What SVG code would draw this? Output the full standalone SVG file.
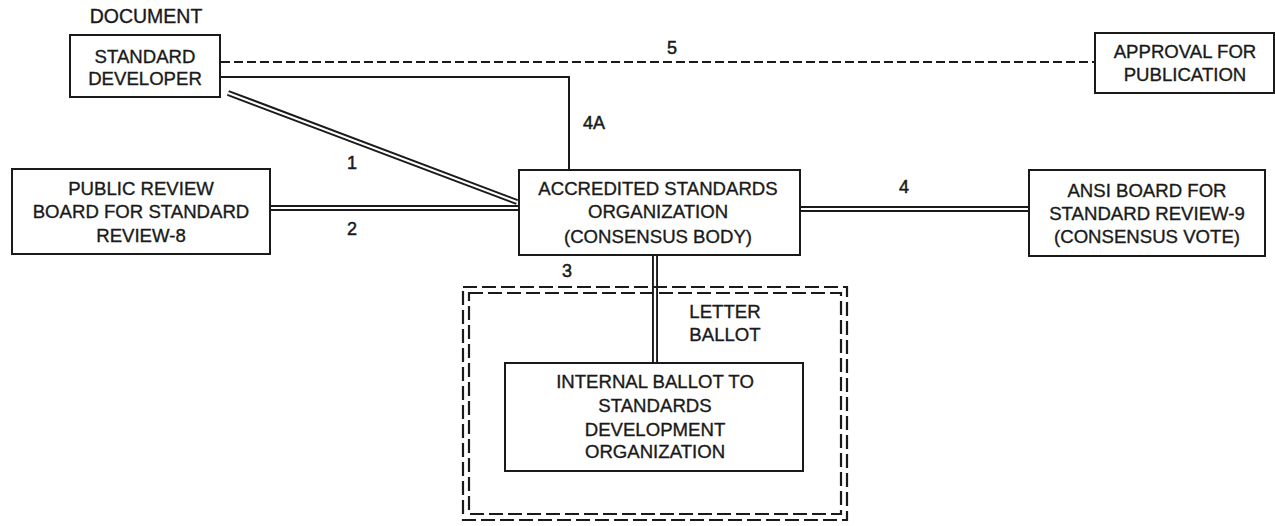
<svg xmlns="http://www.w3.org/2000/svg" width="1275" height="526" viewBox="0 0 1275 526">
<style>
.box{fill:#fff;stroke:#1a1a1a;stroke-width:2}
.t{font-family:"Liberation Sans",Arial,sans-serif;font-size:18.6px;fill:#1a1a1a;stroke:#1a1a1a;stroke-width:0.35;text-anchor:middle}
.lbl{font-family:"Liberation Sans",Arial,sans-serif;font-size:18px;fill:#1a1a1a;stroke:#1a1a1a;stroke-width:0.5;text-anchor:middle}
.dbo{stroke:#1a1a1a;stroke-width:6;fill:none}
.dbi{stroke:#fff;stroke-width:2.2;fill:none}
.sol{stroke:#1a1a1a;stroke-width:2;fill:none}
.dash{stroke:#1a1a1a;stroke-width:2;fill:none;stroke-dasharray:9 4}
.bdash{stroke:#1a1a1a;stroke-width:2.2;fill:none;stroke-dasharray:14 5}
</style>
<rect width="1275" height="526" fill="#fff"/>
<g id="connectors">
  <line class="dash" x1="221" y1="62" x2="1094" y2="62"/>
  <polyline class="sol" points="221,77 569,77 569,170"/>
  <line class="dbo" x1="228" y1="93" x2="517" y2="202"/>
  <line class="dbi" x1="228" y1="93" x2="517" y2="202"/>
  <line class="dbo" x1="271" y1="208" x2="518" y2="208"/>
  <line class="dbi" x1="271" y1="208" x2="518" y2="208"/>
  <line class="dbo" x1="801" y1="209" x2="1028" y2="209"/>
  <line class="dbi" x1="801" y1="209" x2="1028" y2="209"/>
  <line class="dbo" x1="655" y1="256" x2="655" y2="362"/>
  <line class="dbi" x1="655" y1="256" x2="655" y2="362"/>
  <text class="lbl" x="672" y="54">5</text>
  <text class="lbl" x="594" y="129">4A</text>
  <text class="lbl" x="352" y="169">1</text>
  <text class="lbl" x="352" y="235">2</text>
  <text class="lbl" x="904" y="193">4</text>
  <text class="lbl" x="567" y="277">3</text>
</g>
<g id="letter-ballot-frame">
  <rect class="bdash" x="463" y="287" width="384" height="233"/>
  <rect class="bdash" x="469" y="293" width="372" height="221"/>
  <text class="t" x="725" y="318">LETTER</text>
  <text class="t" x="725" y="341">BALLOT</text>
</g>
<g id="document-label">
  <text class="t" x="146" y="23" style="font-size:19.5px">DOCUMENT</text>
</g>
<g id="standard-developer">
  <rect class="box" x="70" y="35" width="150" height="62"/>
  <text class="t" x="145" y="63">STANDARD</text>
  <text class="t" x="145" y="85">DEVELOPER</text>
</g>
<g id="approval">
  <rect class="box" x="1095" y="33" width="179" height="60"/>
  <text class="t" x="1185" y="58">APPROVAL FOR</text>
  <text class="t" x="1185" y="81">PUBLICATION</text>
</g>
<g id="public-review">
  <rect class="box" x="12" y="169" width="258" height="85"/>
  <text class="t" x="141" y="195">PUBLIC REVIEW</text>
  <text class="t" x="141" y="218">BOARD FOR STANDARD</text>
  <text class="t" x="141" y="242">REVIEW-8</text>
</g>
<g id="accredited">
  <rect class="box" x="519" y="170" width="281" height="85"/>
  <text class="t" x="658" y="195">ACCREDITED STANDARDS</text>
  <text class="t" x="658" y="218">ORGANIZATION</text>
  <text class="t" x="658" y="243">(CONSENSUS BODY)</text>
</g>
<g id="ansi">
  <rect class="box" x="1029" y="170" width="236" height="86"/>
  <text class="t" x="1147" y="197">ANSI BOARD FOR</text>
  <text class="t" x="1147" y="220">STANDARD REVIEW-9</text>
  <text class="t" x="1147" y="243">(CONSENSUS VOTE)</text>
</g>
<g id="internal-ballot">
  <rect class="box" x="505" y="363" width="298" height="108"/>
  <text class="t" x="655" y="388">INTERNAL BALLOT TO</text>
  <text class="t" x="655" y="412">STANDARDS</text>
  <text class="t" x="655" y="436">DEVELOPMENT</text>
  <text class="t" x="655" y="458">ORGANIZATION</text>
</g>
</svg>
